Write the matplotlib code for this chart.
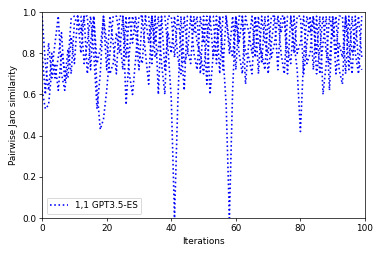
import matplotlib
matplotlib.use("Agg")
import matplotlib.pyplot as plt

# pairwise Jaro similarity per iteration (three overlaid pairs)
iterations = list(range(100))

sim_a = [0.62, 0.53, 0.55, 0.72, 0.85, 0.98, 0.70, 0.62, 0.75, 0.97,
         0.98, 0.98, 0.80, 0.98, 0.98, 0.72, 0.98, 0.62, 0.43, 0.48,
         0.62, 0.80, 0.98, 0.98, 0.88, 0.72, 0.98, 0.70, 0.60, 0.78,
         0.98, 0.98, 0.98, 0.98, 0.75, 0.98, 0.60, 0.98, 0.98, 0.82,
         0.58, 0.00, 0.55, 0.98, 0.75, 0.80, 0.98, 0.90, 0.98, 0.70,
         0.98, 0.65, 0.98, 0.98, 0.75, 0.98, 0.80, 0.55, 0.00, 0.62,
         0.98, 0.80, 0.70, 0.98, 0.90, 0.80, 0.98, 0.70, 0.98, 0.85,
         0.80, 0.98, 0.98, 0.72, 0.98, 0.98, 0.70, 0.98, 0.85, 0.72,
         0.42, 0.78, 0.98, 0.90, 0.98, 0.80, 0.98, 0.60, 0.75, 0.98,
         0.88, 0.98, 0.72, 0.65, 0.98, 0.85, 0.70, 0.98, 0.75, 0.72]

sim_b = [0.98, 0.75, 0.62, 0.80, 0.68, 0.78, 0.90, 0.66, 0.82, 0.70,
         0.95, 0.98, 0.98, 0.75, 0.85, 0.98, 0.80, 0.53, 0.70, 0.98,
         0.72, 0.98, 0.85, 0.70, 0.98, 0.98, 0.55, 0.80, 0.98, 0.90,
         0.72, 0.98, 0.80, 0.65, 0.98, 0.85, 0.98, 0.75, 0.60, 0.98,
         0.98, 0.78, 0.98, 0.85, 0.62, 0.98, 0.98, 0.80, 0.72, 0.98,
         0.85, 0.98, 0.60, 0.80, 0.98, 0.70, 0.98, 0.98, 0.80, 0.98,
         0.72, 0.98, 0.98, 0.65, 0.85, 0.98, 0.78, 0.98, 0.75, 0.98,
         0.70, 0.85, 0.98, 0.98, 0.80, 0.70, 0.98, 0.98, 0.80, 0.98,
         0.98, 0.70, 0.85, 0.98, 0.72, 0.98, 0.70, 0.85, 0.98, 0.62,
         0.98, 0.80, 0.98, 0.98, 0.70, 0.98, 0.80, 0.85, 0.98, 0.78]

sim_c = [0.80, 0.60, 0.85, 0.68, 0.75, 0.62, 0.80, 0.72, 0.68, 0.88,
         0.75, 0.98, 0.90, 0.98, 0.70, 0.85, 0.98, 0.75, 0.82, 0.98,
         0.85, 0.70, 0.75, 0.90, 0.80, 0.98, 0.78, 0.98, 0.85, 0.98,
         0.80, 0.75, 0.98, 0.85, 0.98, 0.78, 0.82, 0.98, 0.72, 0.90,
         0.80, 0.98, 0.78, 0.70, 0.98, 0.82, 0.75, 0.98, 0.85, 0.80,
         0.70, 0.88, 0.98, 0.78, 0.85, 0.98, 0.72, 0.98, 0.85, 0.78,
         0.98, 0.85, 0.98, 0.80, 0.78, 0.70, 0.98, 0.85, 0.80, 0.72,
         0.98, 0.78, 0.85, 0.98, 0.90, 0.98, 0.82, 0.75, 0.98, 0.80,
         0.85, 0.98, 0.75, 0.80, 0.98, 0.70, 0.82, 0.98, 0.80, 0.75,
         0.98, 0.70, 0.85, 0.78, 0.98, 0.72, 0.98, 0.80, 0.70, 0.98]

label = "1,1 GPT3.5-ES"

fig, ax = plt.subplots(figsize=(383 / 64, 4), dpi=64)
fig.subplots_adjust(left=0.11, right=0.953, bottom=0.148, top=0.953)

ax.plot(iterations, sim_a, linestyle=":", color="blue", lw=1.8, label=label)
ax.plot(iterations, sim_b, linestyle=":", color="blue", lw=1.8)
ax.plot(iterations, sim_c, linestyle=":", color="blue", lw=1.8)

ax.set_xlim(0, 100)
ax.set_ylim(0, 1)
ax.set_xlabel("Iterations")
ax.set_ylabel("Pairwise Jaro similarity")
ax.legend(loc="lower left")

fig.savefig("out.png", dpi=64)
